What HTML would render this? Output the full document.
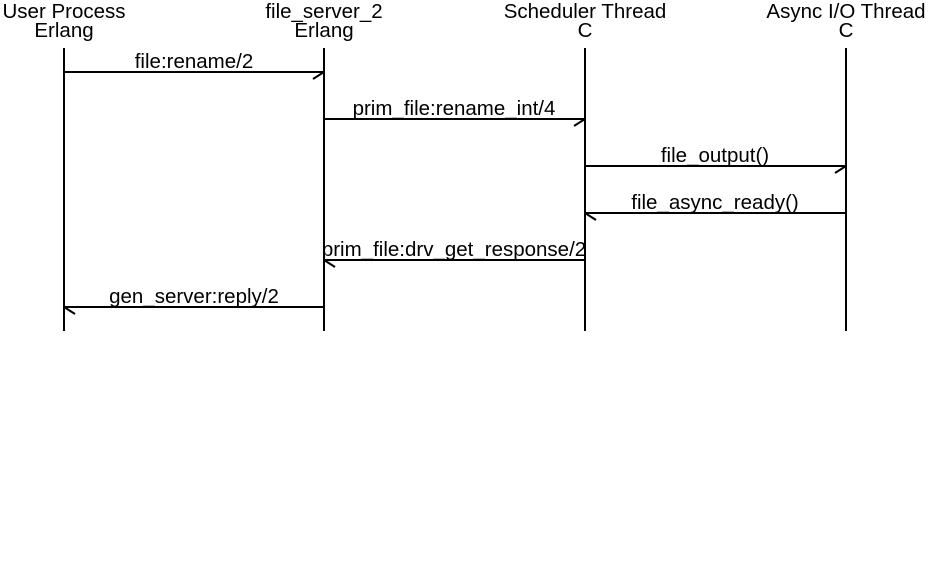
<!DOCTYPE html>
<html><head><style>body{margin:0;background:#fff}</style></head><body>
<svg width="929" height="557" xmlns="http://www.w3.org/2000/svg" font-family="Liberation Sans, sans-serif" font-size="20.5" text-anchor="middle" fill="#000">
<rect width="929" height="557" fill="#fff"/>
<g>
<text x="64" y="18">User Process</text><text x="64" y="37">Erlang</text>
<text x="324" y="18">file_server_2</text><text x="324" y="37">Erlang</text>
<text x="585" y="18">Scheduler Thread</text><text x="585" y="37">C</text>
<text x="846" y="18">Async I/O Thread</text><text x="846" y="37">C</text>
</g>
<g stroke="#000" stroke-width="2" fill="none">
<line x1="64" y1="48" x2="64" y2="331"/>
<line x1="324" y1="48" x2="324" y2="331"/>
<line x1="585" y1="48" x2="585" y2="331"/>
<line x1="846" y1="48" x2="846" y2="331"/>
<line x1="64" y1="72" x2="324" y2="72"/><line x1="324" y1="72" x2="313" y2="79"/>
<line x1="324" y1="119" x2="585" y2="119"/><line x1="585" y1="119" x2="574" y2="126"/>
<line x1="585" y1="166" x2="846" y2="166"/><line x1="846" y1="166" x2="835" y2="173"/>
<line x1="846" y1="213" x2="585" y2="213"/><line x1="585" y1="213" x2="596" y2="220"/>
<line x1="585" y1="260" x2="324" y2="260"/><line x1="324" y1="260" x2="335" y2="267"/>
<line x1="324" y1="307" x2="64" y2="307"/><line x1="64" y1="307" x2="75" y2="314"/>
</g>
<text x="194" y="68">file:rename/2</text>
<text x="454" y="115">prim_file:rename_int/4</text>
<text x="715" y="162">file_output()</text>
<text x="715" y="209">file_async_ready()</text>
<text x="454" y="256">prim_file:drv_get_response/2</text>
<text x="194" y="303">gen_server:reply/2</text>
</svg>
</body></html>
